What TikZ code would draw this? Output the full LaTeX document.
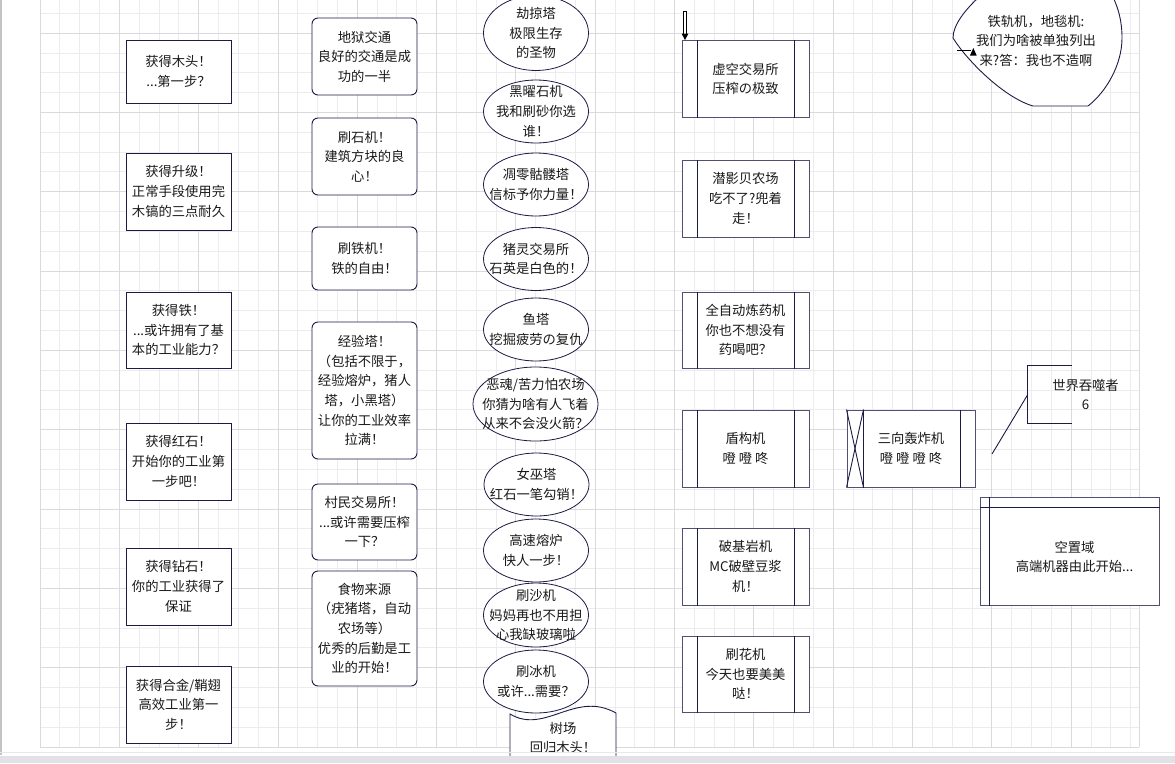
\documentclass[tikz,border=0pt]{standalone}
\usepackage{fontspec}
\newfontfamily\cjk{Noto Sans CJK SC}
\usepackage{tikz}
\usetikzlibrary{shapes}
\usetikzlibrary{positioning}
\usetikzlibrary{arrows.meta}
\definecolor{ink}{RGB}{27,27,70}
\definecolor{inkl}{RGB}{80,80,115}
\definecolor{gridmin}{RGB}{236,236,238}
\definecolor{gridmaj}{RGB}{218,218,222}
\definecolor{txt}{RGB}{25,25,25}
\definecolor{edgel}{RGB}{195,195,198}
\definecolor{bandl}{RGB}{232,232,236}
\definecolor{band}{RGB}{225,225,230}
\tikzset{
    mybox/.style = {rectangle, draw=ink, line width=0.9pt, fill=white, minimum width=105pt, inner sep=0pt, align=center},
    myboxr/.style = {mybox, rounded corners=6pt},
    myell/.style = {ellipse, draw=ink, line width=0.8pt, fill=white, minimum width=105pt, minimum height=63pt, inner sep=0pt},
    myproc/.style = {rectangle, draw=inkl, line width=1pt, fill=white, minimum width=127pt, minimum height=77pt, inner sep=0pt, align=center},
    mytxt/.style = {align=center, inner sep=0pt},
    edgen/.style = {draw=ink, line width=0.9pt},
    edgeda/.style = {draw=black, line width=3.4pt}, % feed
    edgedi/.style = {draw=white, line width=1.4pt, shorten <=1pt}, % feed, hollow
    gridn/.style = {draw=gridmin, line width=0.9pt},
    gridm/.style = {draw=gridmaj, line width=0.9pt}
}

\begin{document}
\begin{tikzpicture}[
    x=1pt, y=-1pt,
    text=txt,
    font=\cjk\fontsize{13.3}{19.6}\selectfont]

  \useasboundingbox (0,0) rectangle (1175,763);
  \clip (0,0) rectangle (1175,763);
  \fill[white] (0,0) rectangle (1175,763);

  % grid
  \foreach \k in {0,...,55} {\draw[gridn] ({40+19.83*\k},0) -- ({40+19.83*\k},747);}
  \foreach \k in {0,...,37} {\draw[gridn] (40,{747-19.83*\k}) -- (1139,{747-19.83*\k});}
  \foreach \k in {0,4,...,52} {\draw[gridm] ({40+19.83*\k},0) -- ({40+19.83*\k},747);}
  \foreach \k in {0,4,...,36} {\draw[gridm] (40,{747-19.83*\k}) -- (1139,{747-19.83*\k});}
  \draw[gridm] (1139,0) -- (1139,747);

  % first column
  \node[mybox, minimum height=62.5pt] (g1) at (178.5,71.75) {获得木头！\\...第一步？};
  \node[mybox, minimum height=77pt] (g2) at (178.5,191.5) {获得升级！\\正常手段使用完\\木镐的三点耐久};
  \node[mybox, minimum height=76pt] (g3) at (178.5,330) {获得铁！\\...或许拥有了基\\本的工业能力？};
  \node[mybox, minimum height=77pt] (g4) at (178.5,461.5) {获得红石！\\开始你的工业第\\一步吧！};
  \node[mybox, minimum height=77pt] (g5) at (178.5,586.5) {获得钻石！\\你的工业获得了\\保证};
  \node[mybox, minimum height=77pt] (g6) at (178.5,704.5) {获得合金/鞘翅\\高效工业第一\\步！};

  % second column
  \node[myboxr, minimum height=77pt] (f1) at (364.5,56.5) {地狱交通\\良好的交通是成\\功的一半};
  \node[myboxr, minimum height=77pt] (f2) at (364.5,156.5) {刷石机！\\建筑方块的良\\心！};
  \node[myboxr, minimum height=63pt] (f3) at (364.5,258.5) {刷铁机！\\铁的自由！};
  \node[myboxr, minimum height=137pt] (f4) at (364.5,390.5) {经验塔！\\（包括不限于，\\经验熔炉，猪人\\塔，小黑塔）\\让你的工业效率\\拉满！};
  \node[myboxr, minimum height=76pt] (f5) at (364.5,522) {村民交易所！\\...或许需要压榨\\一下？};
  \node[myboxr, minimum height=115pt] (f6) at (364.5,628.5) {食物来源\\（疣猪塔，自动\\农场等）\\优秀的后勤是工\\业的开始！};

  % towers
  \node[myell, minimum height=75pt, label={[mytxt]center:{劫掠塔\\极限生存\\的圣物}}] (t1) at (536,33) {};
  \node[myell, label={[mytxt]center:{黑曜石机\\我和刷砂你选\\谁！}}] (t2) at (536,111.5) {};
  \node[myell, label={[mytxt]center:{凋零骷髅塔\\信标予你力量！}}] (t3) at (536,184.5) {};
  \node[myell, label={[mytxt]center:{猪灵交易所\\石英是白色的！}}] (t4) at (536,259) {};
  \node[myell, label={[mytxt]center:{鱼塔\\挖掘疲劳の复仇}}] (t5) at (536,329.5) {};
  \node[myell, minimum width=125pt, minimum height=74pt, label={[mytxt]center:{恶魂/苦力怕农场\\你猜为啥有人飞着\\从来不会没火箭？}}] (t6) at (535.5,404) {};
  \node[myell, label={[mytxt]center:{女巫塔\\红石一笔勾销！}}] (t7) at (536.5,484.5) {};
  \node[myell, label={[mytxt]center:{高速熔炉\\快人一步！}}] (t8) at (536,550.5) {};
  \node[myell, minimum height=64pt, label={[mytxt]center:{刷沙机\\妈妈再也不用担\\心我缺玻璃啦}}] (t9) at (536,615) {};
  \node[myell, label={[mytxt]center:{刷冰机\\或许...需要？}}] (t10) at (536,681.5) {};

  \draw[edgen, fill=white] (510,760) -- (510,714) .. controls (545,735) and (575,690) .. (616,713) -- (616,760);
  \node[mytxt] (wood) at (563,738) {树场\\回归木头！};

  % machines
  \node[myproc, minimum height=76.5pt] (m1) at (745.5,78.75) {虚空交易所\\压榨の极致};
  \node[myproc] (m2) at (745.5,198.5) {潜影贝农场\\吃不了?兜着\\走！};
  \node[myproc, minimum height=76pt] (m3) at (745.5,330) {全自动炼药机\\你也不想没有\\药喝吧？};
  \node[myproc] (m4) at (745.5,448.5) {盾构机\\噔 噔 咚};
  \node[myproc] (m5) at (745.5,566.5) {破基岩机\\MC破壁豆浆\\机！};
  \node[myproc, minimum height=76pt] (m6) at (745.5,674) {刷花机\\今天也要美美\\哒！};
  \foreach \m in {m1,m2,m3,m4,m5,m6} {
    \draw[edgen] ([xshift=16pt]\m.north west) -- ([xshift=16pt]\m.south west);
    \draw[edgen] ([xshift=-15pt]\m.north east) -- ([xshift=-15pt]\m.south east);
  }
  \coordinate (in1) at (685,11);
  \coordinate (in1t) at (685,33.5);
  \draw[edgeda] (in1) -- (in1t);
  \draw[edgedi] (in1) -- (in1t);
  \fill[black] ([xshift=-3.5pt]in1t) -- ([xshift=3.5pt]in1t) -- (in1t |- m1.north) -- cycle;

  % bomber
  \node[myproc, minimum width=128pt] (b1) at (911,448.5) {三向轰炸机\\噔 噔 噔 咚};
  \draw[edgen] ([xshift=17pt]b1.north west) -- ([xshift=17pt]b1.south west);
  \draw[edgen] ([xshift=-15pt]b1.north east) -- ([xshift=-15pt]b1.south east);
  \draw[edgen] (b1.north west) -- ([xshift=17pt]b1.south west);
  \draw[edgen] ([xshift=17pt]b1.north west) -- (b1.south west);

  % world eater note
  \node[mytxt, minimum width=115pt, minimum height=57pt] (wd) at (1085.5,394.5) {世界吞噬者\\6};
  \draw[edgen] ([xshift=44pt]wd.north west) -- (wd.north west) -- (wd.south west) -- ([xshift=44pt]wd.south west);
  \coordinate (wdtail) at (992,454);
  \draw[edgen] (wdtail) -- (wd.west);

  % idle area
  \node[rectangle, draw=inkl, line width=1pt, fill=white, minimum width=179pt, minimum height=108pt] (idle) at (1069.5,551) {};
  \draw[edgen] ([xshift=10pt]idle.north west) -- ([xshift=10pt]idle.south west);
  \draw[edgen] ([yshift=-11pt]idle.north west) -- ([yshift=-11pt]idle.north east);
  \node[mytxt] (idletxt) at (1074.5,557) {空置域\\高端机器由此开始...};

  % rails
  \draw[edgen, fill=white] (979,-3) .. controls (965,10) and (953,25) .. (953,38)
    .. controls (968,62) and (1005,98) .. (1033,106) -- (1088,106)
    .. controls (1106,92) and (1122,65) .. (1122,38)
    .. controls (1122,20) and (1118,8) .. (1113,-3);
  \node[mytxt] (rail) at (1036,40.7) {铁轨机，地毯机:\\我们为啥被单独列出\\来?答：我也不造啊};
  \coordinate (mk) at (957,50);
  \draw[black, line width=0.9pt] (mk) -- ++(14,0);
  \fill[black] (970,55.5) -- (973.3,48) -- (976.7,55.5) -- cycle;

  % frame
  \draw[edgel, line width=1.5pt] (0.75,0) -- (0.75,755);
  \draw[bandl, line width=0.8pt] (0,752) -- (1175,752);
  \fill[band] (0,756) rectangle (1175,763);

\end{tikzpicture}
\end{document}
